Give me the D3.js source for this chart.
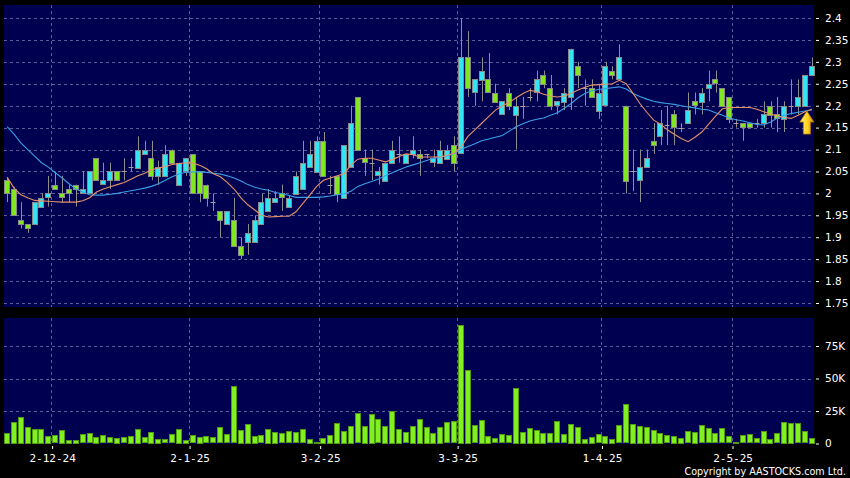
<!DOCTYPE html>
<html><head><meta charset="utf-8">
<script src="https://cdn.jsdelivr.net/npm/d3@7"></script>
<style>body{margin:0;background:#000;overflow:hidden}svg{display:block}</style>
</head><body><svg id="chart" width="850" height="478"></svg>
<script>
// ---------- DATA ----------
const opens = [2.03,2.01,1.94,1.93,1.93,1.97,1.99,2.02,2.00,2.01,
2.02,2.00,2.00,2.08,2.02,2.03,2.05,2.05,2.06,2.06,
2.09,2.08,2.04,2.04,2.10,2.02,2.05,2.09,2.05,2.02,
1.98,1.96,1.93,1.94,1.88,1.89,1.89,1.93,1.96,1.98,
2.00,1.97,2.00,2.01,2.06,2.05,2.12,2.02,2.04,1.99,
2.06,2.22,2.08,2.07,2.04,2.03,2.07,2.09,2.07,2.09,
2.09,2.09,2.07,2.07,2.08,2.11,2.09,2.31,2.23,2.26,
2.26,2.23,2.18,2.23,2.18,2.20,2.22,2.23,2.27,2.24,
2.20,2.21,2.22,2.29,2.24,2.24,2.19,2.20,2.28,2.26,
2.20,2.05,2.03,2.06,2.12,2.13,2.155,2.18,2.15,2.16,
2.21,2.21,2.24,2.26,2.24,2.22,2.16,2.16,2.16,2.16,
2.16,2.20,2.18,2.17,2.20,2.20,2.20,2.27];
const highs = [2.035,2.015,1.98,1.93,1.98,2.00,2.04,2.05,2.04,2.02,
2.02,2.05,2.05,2.08,2.07,2.07,2.05,2.08,2.08,2.13,
2.12,2.12,2.075,2.11,2.10,2.07,2.08,2.09,2.05,2.02,
2.00,1.96,1.96,1.99,1.90,1.93,1.95,2.00,2.01,2.005,
2.02,1.995,2.05,2.12,2.12,2.13,2.14,2.04,2.04,2.11,
2.20,2.22,2.10,2.10,2.06,2.07,2.12,2.13,2.09,2.13,
2.10,2.09,2.10,2.12,2.11,2.13,2.40,2.37,2.26,2.31,
2.32,2.25,2.21,2.24,2.22,2.22,2.24,2.28,2.28,2.27,
2.21,2.24,2.33,2.30,2.26,2.26,2.25,2.30,2.29,2.34,
2.20,2.10,2.10,2.10,2.16,2.19,2.20,2.19,2.16,2.23,
2.23,2.24,2.28,2.28,2.24,2.22,2.17,2.16,2.16,2.17,
2.21,2.21,2.22,2.21,2.26,2.26,2.27,2.31];
const lows = [1.98,1.95,1.92,1.91,1.93,1.97,1.97,2.01,1.98,1.98,
1.97,2.00,2.00,2.03,2.02,2.01,2.03,2.03,2.05,2.06,
2.09,2.03,2.02,2.04,2.07,2.02,2.04,2.00,1.98,1.97,
1.96,1.90,1.93,1.88,1.85,1.86,1.89,1.93,1.96,1.98,
1.96,1.97,2.00,2.01,2.06,2.05,2.04,2.00,1.98,1.99,
2.06,2.10,2.04,2.03,2.02,2.03,2.07,2.07,2.07,2.08,
2.04,2.08,2.06,2.07,2.08,2.05,2.09,2.22,2.20,2.21,
2.23,2.21,2.18,2.19,2.10,2.17,2.21,2.21,2.24,2.19,
2.18,2.19,2.19,2.24,2.20,2.22,2.17,2.20,2.26,2.26,
2.00,2.005,1.98,2.06,2.09,2.11,2.11,2.11,2.14,2.16,
2.18,2.18,2.21,2.23,2.20,2.16,2.15,2.12,2.15,2.15,
2.15,2.15,2.14,2.14,2.18,2.18,2.20,2.27];
const closes = [2.00,1.95,1.93,1.92,1.98,1.99,2.00,2.01,1.99,2.00,
2.01,2.01,2.05,2.03,2.03,2.05,2.03,2.05,2.06,2.10,
2.10,2.04,2.06,2.09,2.07,2.07,2.08,2.00,2.00,1.99,
1.98,1.94,1.96,1.88,1.86,1.91,1.94,1.98,1.99,1.99,
1.99,1.99,2.04,2.07,2.09,2.12,2.04,2.02,2.00,2.11,
2.16,2.10,2.07,2.07,2.05,2.07,2.10,2.09,2.09,2.10,
2.08,2.09,2.08,2.10,2.10,2.07,2.31,2.24,2.26,2.28,
2.23,2.21,2.21,2.20,2.20,2.20,2.22,2.26,2.25,2.20,
2.21,2.23,2.33,2.27,2.24,2.22,2.23,2.29,2.27,2.31,
2.03,2.05,2.06,2.08,2.11,2.16,2.155,2.15,2.15,2.19,
2.20,2.23,2.25,2.25,2.20,2.17,2.16,2.15,2.15,2.16,
2.18,2.18,2.17,2.20,2.20,2.22,2.27,2.29];
// volume in thousands of shares
const volumes = [8.3,16.8,20.4,12.7,11.2,11.2,5.8,6.5,10.4,2.7,
2.7,7.3,7.8,5.2,6.3,4.8,4.5,4.8,6.0,11.2,
4.8,9.0,3.7,3.2,7.3,11.2,3.0,6.5,5.0,5.5,
4.8,12.4,7.3,44.2,10.4,15.0,6.0,6.5,11.2,9.0,
7.8,9.4,8.6,10.9,3.7,1.2,4.5,6.8,16.0,9.9,
13.7,23.2,13.5,22.7,18.6,13.7,25.0,11.2,8.8,13.5,
19.1,12.9,8.1,12.9,16.5,17.3,91.2,56.8,14.2,18.1,
6.0,4.2,7.3,6.3,42.9,9.1,12.2,10.4,8.3,7.8,
17.3,7.3,15.0,12.9,3.7,5.0,7.1,5.8,3.7,14.0,
30.1,15.0,13.5,12.7,10.4,8.1,6.5,6.0,4.5,9.6,
9.1,14.2,11.9,7.8,11.6,5.5,1.4,6.3,7.3,4.2,
9.9,3.5,7.8,16.8,16.0,15.5,9.4,4.5];
// moving averages
const maShort = [2.037,2.012,1.997,1.99,1.984,1.983,1.982,1.981,1.98,1.98,
1.98,1.983,1.99,2.003,2.01,2.015,2.02,2.025,2.032,2.04,
2.046,2.054,2.058,2.061,2.066,2.068,2.07,2.069,2.064,2.056,
2.045,2.038,2.025,2.01,1.99,1.974,1.962,1.95,1.946,1.947,
1.948,1.948,1.958,1.977,1.996,2.016,2.03,2.035,2.04,2.045,
2.065,2.078,2.08,2.08,2.076,2.072,2.077,2.084,2.09,2.088,
2.083,2.083,2.083,2.083,2.087,2.092,2.106,2.13,2.145,2.16,
2.175,2.19,2.2,2.207,2.218,2.228,2.235,2.232,2.226,2.222,
2.22,2.222,2.228,2.236,2.242,2.247,2.248,2.249,2.25,2.258,
2.25,2.228,2.205,2.185,2.167,2.158,2.145,2.135,2.125,2.118,
2.128,2.14,2.158,2.176,2.193,2.196,2.196,2.196,2.196,2.192,
2.186,2.181,2.176,2.173,2.171,2.178,2.186,2.192];
const maLong = [2.152,2.135,2.115,2.1,2.085,2.07,2.06,2.047,2.035,2.022,
2.01,2.003,1.997,1.996,1.996,1.998,2.0,2.003,2.006,2.009,
2.012,2.016,2.022,2.03,2.038,2.044,2.048,2.049,2.049,2.048,
2.046,2.044,2.04,2.035,2.028,2.02,2.014,2.01,2.007,2.002,
1.999,1.995,1.991,1.991,1.991,1.991,1.992,1.994,1.997,1.999,
2.005,2.016,2.022,2.027,2.033,2.04,2.047,2.054,2.06,2.065,
2.07,2.075,2.08,2.083,2.086,2.091,2.1,2.107,2.113,2.12,
2.124,2.128,2.132,2.142,2.152,2.159,2.165,2.169,2.172,2.178,
2.184,2.194,2.205,2.218,2.228,2.234,2.237,2.239,2.241,2.243,
2.238,2.228,2.221,2.215,2.21,2.207,2.205,2.203,2.2,2.197,
2.195,2.192,2.19,2.184,2.178,2.172,2.168,2.165,2.161,2.157,
2.156,2.163,2.172,2.178,2.182,2.185,2.188,2.19];
const dateLabels = ["2-12-24","2-1-25","3-2-25","3-3-25","1-4-25","2-5-25"];
const dateIndex = [7,27,46,66,87,106];
const priceTicks = [1.75,1.8,1.85,1.9,1.95,2.0,2.05,2.1,2.15,2.2,2.25,2.3,2.35,2.4];
const volumeTicks = [0,25,50,75];

// ---------- LAYOUT ----------
const N = closes.length;
const svg = d3.select("#chart");
const L = 4, R = 815;
const P = {top:5, bottom:307};
const V = {top:318, bottom:444};

const x = d3.scaleBand().domain(d3.range(N)).range([L, R]).paddingInner(0.09).paddingOuter(0);
const xl = d3.scaleLinear().domain([0, N]).range([L, R]);
const cx = i => Math.round(x(i) + x.bandwidth()/2) + 0.5;
const y = d3.scaleLinear().domain([1.75, 2.4]).range([303, 18]);
const yv = d3.scaleLinear().domain([0, 75]).range([443.5, 346]);

// panels
svg.append("rect").attr("x",L).attr("y",P.top).attr("width",R-L-1).attr("height",P.bottom-P.top).attr("fill","#000050");
svg.append("rect").attr("x",L).attr("y",V.top).attr("width",R-L-1).attr("height",V.bottom-V.top).attr("fill","#000050");

const gridColor = "#5c5c9c";
// horizontal grid
svg.append("g").selectAll("line").data(priceTicks).join("line")
  .attr("x1",L).attr("x2",R-1).attr("y1",d=>Math.round(y(d))+0.5).attr("y2",d=>Math.round(y(d))+0.5)
  .attr("stroke",gridColor).attr("stroke-dasharray","3,3").attr("stroke-width",1);
svg.append("g").selectAll("line").data(volumeTicks.filter(d=>d>0)).join("line")
  .attr("x1",L).attr("x2",R-1).attr("y1",d=>Math.round(yv(d))+0.5).attr("y2",d=>Math.round(yv(d))+0.5)
  .attr("stroke",gridColor).attr("stroke-dasharray","3,3").attr("stroke-width",1);
// vertical grid
[[P.top,P.bottom],[V.top,V.bottom]].forEach(([t,b])=>{
  svg.append("g").selectAll("line").data(dateIndex).join("line")
    .attr("x1",d=>Math.round(xl(d))-0.5).attr("x2",d=>Math.round(xl(d))-0.5)
    .attr("y1",t).attr("y2",b)
    .attr("stroke",gridColor).attr("stroke-dasharray","3,3").attr("stroke-width",1);
});

// ---------- CANDLES ----------
const candles = svg.append("g");
const idx = d3.range(N);
const bw = Math.round(x.bandwidth())-1;
candles.selectAll("line.wick").data(idx).join("line").attr("class","wick")
  .attr("x1",cx).attr("x2",cx)
  .attr("y1",i=>y(highs[i])).attr("y2",i=>y(lows[i]))
  .attr("stroke","#8e8e8e").attr("stroke-width",1);
const bodies = idx.filter(i=>opens[i]!==closes[i]);
const dojis = idx.filter(i=>opens[i]===closes[i]);
candles.selectAll("rect.body").data(bodies).join("rect").attr("class","body")
  .attr("x",i=>Math.round(x(i))+0.5)
  .attr("width",bw)
  .attr("y",i=>Math.round(y(Math.max(opens[i],closes[i])))+0.5)
  .attr("height",i=>Math.max(1, Math.round(Math.abs(y(opens[i])-y(closes[i])))))
  .attr("fill",i=>closes[i]>opens[i] ? "#33e4f2" : "#80e81c")
  .attr("stroke","#8a8a8a").attr("stroke-width",1);
candles.selectAll("line.doji").data(dojis).join("line").attr("class","doji")
  .attr("x1",i=>Math.round(x(i))+0.5).attr("x2",i=>Math.round(x(i))+0.5+bw)
  .attr("y1",i=>Math.round(y(closes[i]))+0.5).attr("y2",i=>Math.round(y(closes[i]))+0.5)
  .attr("stroke","#a0a0a0").attr("stroke-width",1);

// ---------- MOVING AVERAGES ----------
const line = arr => d3.line().x(i=>x(i)+x.bandwidth()/2).y(i=>y(arr[i]))(idx);
svg.append("path").attr("d",line(maLong)).attr("fill","none").attr("stroke","#3a9fe6").attr("stroke-width",1.1);
svg.append("path").attr("d",line(maShort)).attr("fill","none").attr("stroke","#e6916a").attr("stroke-width",1.1);

// ---------- VOLUME ----------
svg.append("g").selectAll("rect").data(idx).join("rect")
  .attr("x",i=>Math.round(x(i))+0.5)
  .attr("width",bw)
  .attr("y",i=>Math.round(yv(volumes[i]))+0.5)
  .attr("height",i=>Math.max(0, Math.round(yv(0)-yv(volumes[i]))-1))
  .attr("fill","#80f020").attr("stroke","#4f9a12").attr("stroke-width",1);

// ---------- ARROW marker at last bar ----------
const defs = svg.append("defs");
const gr = defs.append("linearGradient").attr("id","arrowGrad").attr("x1","0").attr("x2","1").attr("y1","0").attr("y2","0");
gr.append("stop").attr("offset","0%").attr("stop-color","#fff27a");
gr.append("stop").attr("offset","55%").attr("stop-color","#ffd21e");
gr.append("stop").attr("offset","100%").attr("stop-color","#d98a00");
const ax = x(N-1) + x.bandwidth()/2 - 5, ay = y(maLong[N-1]) + 1;
svg.append("path")
  .attr("d",`M${ax},${ay} L${ax+7},${ay+11} L${ax+3.5},${ay+11} L${ax+3.5},${ay+23} L${ax-3.5},${ay+23} L${ax-3.5},${ay+11} L${ax-7},${ay+11} Z`)
  .attr("fill","url(#arrowGrad)").attr("stroke","#b87a00").attr("stroke-width",0.8);

// ---------- AXES ----------
const fmt = d => String(+d.toFixed(2));
const yAxis = svg.append("g").attr("transform",`translate(${R+1},0)`)
  .call(d3.axisRight(y).tickValues(priceTicks).tickFormat(fmt).tickSize(3).tickPadding(6));
const vAxis = svg.append("g").attr("transform",`translate(${R+1},0)`)
  .call(d3.axisRight(yv).tickValues(volumeTicks).tickFormat(d=>d===0?"0":d+"K").tickSize(3).tickPadding(6));
const xAxis = svg.append("g").attr("transform",`translate(0,${V.bottom+2})`)
  .call(d3.axisBottom(xl).tickValues(dateIndex).tickFormat((d,k)=>dateLabels[k]).tickSize(3).tickPadding(5));
[yAxis,vAxis,xAxis].forEach(g=>{
  g.select(".domain").remove();
  g.selectAll(".tick line").attr("stroke","#ffffff");
  g.selectAll("text").attr("fill","#ffffff");
});
yAxis.selectAll("text").attr("font-family","DejaVu Sans").attr("font-size","10.5px");
vAxis.selectAll("text").attr("font-family","DejaVu Sans").attr("font-size","10.5px");
xAxis.selectAll("text").attr("font-family","DejaVu Sans Mono").attr("font-size","11px");

svg.append("text").attr("x",846).attr("y",475).attr("text-anchor","end")
  .attr("fill","#ffffff").attr("font-family","DejaVu Sans").attr("font-size","9.6px")
  .text("Copyright by AASTOCKS.com Ltd.");
</script></body></html>
